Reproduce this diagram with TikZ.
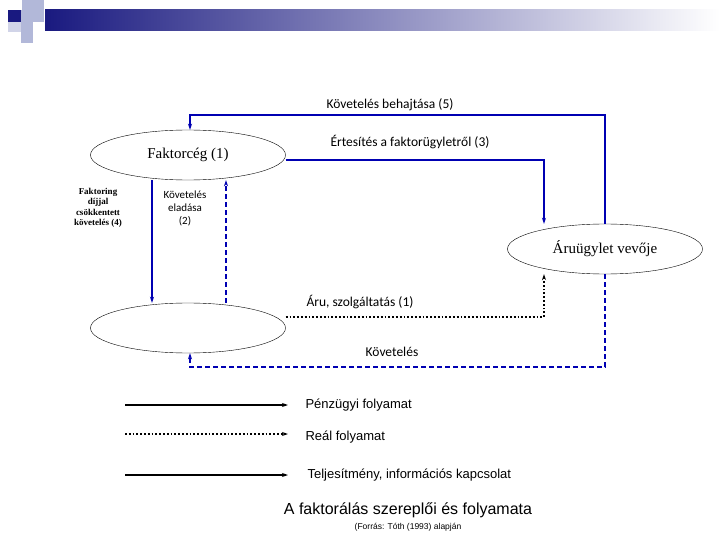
\documentclass[tikz,border=0pt]{standalone}
\usepackage{fontspec}
\setmainfont{Liberation Serif}
\newfontfamily\lblfont{Carlito}
\newfontfamily\legfont{Liberation Sans}
\usetikzlibrary{shapes.geometric,arrows.meta}
\definecolor{flowblue}{rgb}{0.0,0.0,0.70}
\definecolor{navybox}{rgb}{0.10,0.10,0.50}
\definecolor{palebox}{rgb}{0.70,0.72,0.85}
\tikzset{
  party/.style={draw,ellipse,minimum width=195pt,minimum height=50pt,inner sep=0pt,font=\fontsize{15}{17}\selectfont},
  money/.style={flowblue,line width=1.3pt,-{Stealth[length=6pt,width=4pt]}},
  info/.style={flowblue,line width=1.3pt,dash pattern=on 5pt off 3pt,-{Stealth[length=6pt,width=4pt]}},
  real/.style={black,line width=1.8pt,dotted,-{Stealth[length=6pt,width=4pt]}},
  lbl/.style={font=\lblfont\fontsize{13.5}{15}\selectfont},
  leglbl/.style={font=\legfont\fontsize{13}{15}\selectfont,anchor=west}
}
\begin{document}
\begin{tikzpicture}[x=1pt,y=-1pt]
\useasboundingbox (0,0) rectangle (720,540);
% header
\shade[left color=navybox,right color=white] (45,10) rectangle (720,31);
\fill[palebox] (22,0) rectangle (44,10);
\fill[navybox] (8,10) rectangle (21,22);
\fill[palebox] (21,10) rectangle (44,22);
\fill[palebox] (21,22) rectangle (33,43);
\fill[palebox!60] (8,22) rectangle (21,32);
% parties
\node[party] (factor) at (188,155) {Faktorcég (1)};
\node[party] (seller) at (188,328) {};
\node[party] (buyer) at (605,249) {Áruügylet vevője};
\coordinate (tl) at (190,115);
\coordinate (tr) at (605,115);
\coordinate (nr) at (544,160);
\coordinate (dr) at (544,317);
\coordinate (bl) at (190,367);
\coordinate (br) at (605,367);
% flows
\draw[money] (buyer.north) |- (tl) -- (factor.north -| tl);
\draw[money] (factor.east |- nr) -| (buyer.north -| nr);
\draw[money] (factor.south -| 152,0) -- (seller.north -| 152,0);
\draw[info] (seller.north -| 226,0) -- (factor.south -| 226,0);
\draw[real] (seller.east |- dr) -| (buyer.south -| dr);
\draw[info] (buyer.south) |- (bl) -- (seller.south -| bl);
% labels
\node[lbl] (l5) at (390,105) {Követelés behajtása (5)};
\node[lbl] (l3) at (410,142) {Értesítés a faktorügyletről (3)};
\node[font=\bfseries\fontsize{9}{10.5}\selectfont,align=center] (l4) at (98,208) {Faktoring\\díjjal\\csökkentett\\követelés (4)};
\node[font=\lblfont\fontsize{11}{13}\selectfont,align=center] (l2) at (185,208) {Követelés\\eladása\\(2)};
\node[lbl] (l1) at (360,302) {Áru, szolgáltatás (1)};
\node[lbl] (lk) at (392,352) {Követelés};
% legend
\coordinate (a1) at (125,405); \coordinate (b1) at (288,405);
\coordinate (a2) at (125,434); \coordinate (b2) at (288,434);
\coordinate (a3) at (125,475); \coordinate (b3) at (288,475);
\draw[black,line width=1.4pt,-{Stealth[length=6pt,width=4pt]}] (a1) -- (b1);
\draw[real] (a2) -- (b2);
\draw[black,line width=1.1pt,-{Stealth[length=6pt,width=4pt]}] (a3) -- (b3);
\node[leglbl] at (302,405) {Pénzügyi folyamat};
\node[leglbl] at (302,437) {Reál folyamat};
\node[leglbl] at (304,475) {Teljesítmény, információs kapcsolat};
\node[font=\legfont\fontsize{16}{18}\selectfont] (title) at (408,510) {A faktorálás szereplői és folyamata};
\node[font=\legfont\fontsize{8.5}{10}\selectfont] (src) at (408,527) {(Forrás: Tóth (1993) alapján};
\end{tikzpicture}
\end{document}
